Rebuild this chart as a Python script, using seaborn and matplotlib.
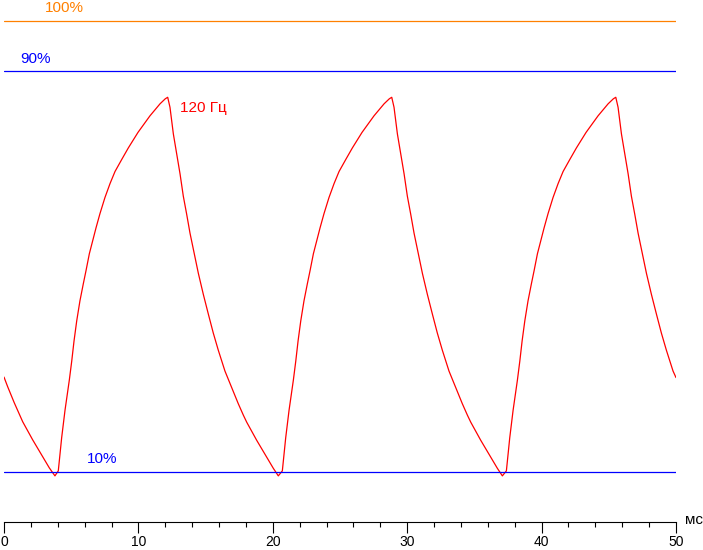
import matplotlib
matplotlib.use("Agg")
import matplotlib.pyplot as plt
import seaborn as sns
import pandas as pd
from matplotlib.ticker import MultipleLocator

# ---- data (time in ms, brightness in %) ----
time_ms = [
    0.00, 0.27, 0.76, 1.14, 1.39, 2.13, 2.88, 3.37, 3.79,
    # cycle 1
    4.04, 4.29, 4.54, 4.71, 4.86, 5.04, 5.21, 5.41, 5.65, 5.90, 6.10, 6.35, 6.60, 6.85,
    7.14, 7.51, 7.89, 8.26, 8.76, 9.25, 9.97, 10.86, 11.61, 12.00, 12.18,
    12.35, 12.60, 12.85, 13.10, 13.34, 13.59, 13.84, 14.21, 14.46, 14.83, 15.20, 15.57,
    15.94, 16.44, 16.94, 17.43, 17.81, 18.06, 18.80, 19.55, 20.04, 20.41,
    # cycle 2
    20.71, 20.96, 21.21, 21.38, 21.53, 21.71, 21.88, 22.08, 22.32, 22.57, 22.77, 23.02, 23.27, 23.52,
    23.81, 24.18, 24.56, 24.93, 25.43, 25.92, 26.64, 27.53, 28.28, 28.67, 28.85,
    29.02, 29.27, 29.52, 29.77, 30.01, 30.26, 30.51, 30.88, 31.13, 31.50, 31.87, 32.24,
    32.61, 33.11, 33.61, 34.10, 34.48, 34.73, 35.47, 36.22, 36.71, 37.08,
    # cycle 3
    37.38, 37.63, 37.88, 38.05, 38.20, 38.38, 38.55, 38.75, 38.99, 39.24, 39.44, 39.69, 39.94, 40.19,
    40.48, 40.85, 41.23, 41.60, 42.10, 42.59, 43.31, 44.20, 44.95, 45.34, 45.52,
    45.69, 45.94, 46.19, 46.44, 46.68, 46.93, 47.18, 47.55, 47.80, 48.17, 48.54, 48.91,
    49.28, 49.78, 50.00,
]
brightness = [
    28.9, 27.0, 23.8, 21.5, 20.0, 16.4, 13.0, 10.8, 9.2,
    # cycle 1
    10.2, 16.8, 22.3, 25.5, 28.3, 32.1, 36.1, 40.1, 44.1, 47.5, 50.1, 53.5, 56.1, 58.7,
    61.5, 64.7, 67.5, 69.9, 72.3, 74.6, 77.7, 81.0, 83.4, 84.4, 84.7,
    82.7, 77.4, 73.4, 69.4, 65.0, 61.4, 57.6, 52.8, 49.6, 45.4, 41.5, 37.7,
    34.3, 30.1, 26.8, 23.6, 21.3, 19.9, 16.3, 12.9, 10.7, 9.2,
    # cycle 2
    10.2, 16.8, 22.3, 25.5, 28.3, 32.1, 36.1, 40.1, 44.1, 47.5, 50.1, 53.5, 56.1, 58.7,
    61.5, 64.7, 67.5, 69.9, 72.3, 74.6, 77.7, 81.0, 83.4, 84.4, 84.7,
    82.7, 77.4, 73.4, 69.4, 65.0, 61.4, 57.6, 52.8, 49.6, 45.4, 41.5, 37.7,
    34.3, 30.1, 26.8, 23.6, 21.3, 19.9, 16.3, 12.9, 10.7, 9.2,
    # cycle 3
    10.2, 16.8, 22.3, 25.5, 28.3, 32.1, 36.1, 40.1, 44.1, 47.5, 50.1, 53.5, 56.1, 58.7,
    61.5, 64.7, 67.5, 69.9, 72.3, 74.6, 77.7, 81.0, 83.4, 84.4, 84.7,
    82.7, 77.4, 73.4, 69.4, 65.0, 61.4, 57.6, 52.8, 49.6, 45.4, 41.5, 37.7,
    34.3, 30.1, 28.8,
]
level_values = [100, 90, 10]
level_labels = ["100%", "90%", "10%"]
level_colors = ["#FF8000", "#0000FF", "#0000FF"]
x_ticks = [0, 10, 20, 30, 40, 50]
series_label = "120 Гц"
x_unit = "мс"

sns.set_style("white")
plt.rcParams["font.family"] = ["Liberation Sans", "DejaVu Sans"]

fig = plt.figure(figsize=(7.03, 5.5), dpi=100)
ax = fig.add_axes([4 / 703, 28 / 550, 672 / 703, 522 / 550])

df = pd.DataFrame({"t": time_ms, "b": brightness})
sns.lineplot(data=df, x="t", y="b", ax=ax, color="#FF0000", linewidth=0.9)

for v, c in zip(level_values, level_colors):
    ax.axhline(v, color=c, linewidth=0.9)

ax.set_xlim(0, 50)
ax.set_ylim(0, 104.1)
ax.set_xlabel("")
ax.set_ylabel("")
ax.set_yticks([])
ax.set_xticks(x_ticks)
ax.xaxis.set_minor_locator(MultipleLocator(2))
ax.tick_params(axis="x", which="major", direction="out", length=8, width=0.8,
               color="black", labelsize=10, pad=1.5, labelcolor="black", bottom=True)
ax.tick_params(axis="x", which="minor", direction="out", length=3.8, width=0.8,
               color="black", bottom=True)
for s in ["top", "left", "right"]:
    ax.spines[s].set_visible(False)
ax.spines["bottom"].set_color("black")
ax.spines["bottom"].set_linewidth(0.8)

fs = 11
ax.text(3.05, 102.6, level_labels[0], color=level_colors[0], fontsize=fs, va="center", ha="left")
ax.text(1.19, 92.4, level_labels[1], color=level_colors[1], fontsize=fs, va="center", ha="left")
ax.text(6.18, 12.6, level_labels[2], color=level_colors[2], fontsize=fs, va="center", ha="left")
ax.text(13.1, 82.6, series_label, color="#FF0000", fontsize=fs, va="center", ha="left")
ax.text(50.65, 0.4, x_unit, color="black", fontsize=fs, va="center", ha="left", clip_on=False)

fig.savefig("out.png", dpi=100)
